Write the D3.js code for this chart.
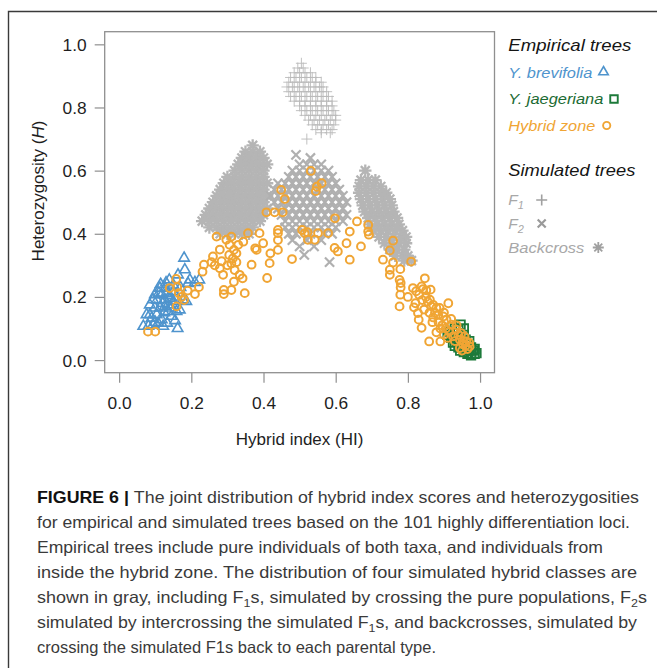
<!DOCTYPE html>
<html>
<head>
<meta charset="utf-8">
<script src="https://cdn.jsdelivr.net/npm/d3@7"></script>
<style>
  html, body { margin: 0; padding: 0; background: #fff; }
  svg { display: block; font-family: "Liberation Sans", Arial, sans-serif; }
</style>
</head>
<body>
<div id="chart"></div>
<script>
// ---- data ----
const xTicks = [0, 0.2, 0.4, 0.6, 0.8, 1.0];
const yTicks = [0, 0.2, 0.4, 0.6, 0.8, 1.0];

// Y. brevifolia (blue triangles)
const brevifolia = [
  [0.18,0.323],[0.182,0.286],[0.163,0.27],[0.139,0.254],[0.196,0.254],[0.21,0.246],[0.222,0.254],
  [0.113,0.228],[0.127,0.228],[0.099,0.207],[0.11,0.212],[0.085,0.175],[0.094,0.191],[0.076,0.144],
  [0.085,0.144],[0.067,0.107],[0.081,0.107],[0.094,0.112],[0.122,0.107],[0.162,0.10],[0.113,0.165],
  [0.127,0.17],[0.136,0.154],[0.104,0.144],[0.118,0.128],[0.145,0.139],[0.159,0.154],[0.127,0.191],
  [0.141,0.196],[0.15,0.186],[0.118,0.207],[0.131,0.212],[0.15,0.217],[0.15,0.238],[0.191,0.243],
  [0.177,0.191],[0.186,0.186],[0.168,0.159],[0.099,0.165],[0.09,0.133],[0.108,0.117],[0.133,0.117],
  [0.12,0.18],[0.135,0.175],[0.145,0.165],[0.125,0.15],[0.14,0.205],[0.16,0.2],[0.105,0.19],
  [0.115,0.24],[0.17,0.23],[0.13,0.245],[0.10,0.12],[0.155,0.125]
];

// Y. jaegeriana (green squares)
const jaegeriana = [
  [0.946,0.112],[0.93,0.10],[0.915,0.09],[0.925,0.085],[0.94,0.095],[0.955,0.10],[0.92,0.07],
  [0.935,0.06],[0.945,0.07],[0.955,0.08],[0.96,0.065],[0.93,0.045],[0.94,0.04],[0.95,0.05],
  [0.965,0.05],[0.97,0.06],[0.975,0.04],[0.945,0.03],[0.955,0.025],[0.965,0.02],[0.975,0.015],
  [0.985,0.02],[0.99,0.022],[0.98,0.03],[0.96,0.035],[0.97,0.03],[0.985,0.035],[0.95,0.04],
  [0.91,0.08],[0.925,0.055]
];

// Hybrid zone (orange circles)
const hybridZone = [
  [0.08,0.09],[0.10,0.09],[0.14,0.228],[0.158,0.257],[0.161,0.231],[0.173,0.20],[0.159,0.17],
  [0.19,0.22],[0.21,0.209],[0.221,0.231],[0.165,0.212],[0.18,0.19],
  [0.231,0.28],[0.235,0.302],[0.256,0.31],[0.26,0.328],[0.27,0.391],[0.279,0.35],[0.284,0.313],
  [0.279,0.291],[0.288,0.27],[0.29,0.222],[0.29,0.209],[0.311,0.222],[0.297,0.381],[0.311,0.391],
  [0.306,0.365],[0.318,0.349],[0.325,0.338],[0.305,0.333],[0.315,0.322],[0.311,0.306],[0.32,0.285],
  [0.334,0.27],[0.342,0.259],[0.318,0.248],[0.348,0.212],[0.344,0.375],[0.357,0.402],[0.33,0.365],
  [0.367,0.302],[0.381,0.349],[0.399,0.37],[0.41,0.26],[0.417,0.307],[0.419,0.338],[0.44,0.349],
  [0.44,0.38],[0.44,0.402],[0.44,0.412],[0.479,0.32],[0.389,0.402],[0.377,0.354],[0.265,0.30],
  [0.30,0.30],[0.325,0.31],
  [0.408,0.468],[0.431,0.468],[0.453,0.468],[0.459,0.51],[0.449,0.539],[0.531,0.599],[0.548,0.549],
  [0.561,0.56],[0.545,0.535],[0.598,0.449],[0.507,0.412],[0.514,0.402],[0.522,0.405],[0.523,0.381],
  [0.542,0.381],[0.551,0.402],[0.579,0.402],[0.597,0.355],[0.606,0.344],[0.63,0.37],[0.639,0.407],
  [0.639,0.318],[0.659,0.439],[0.67,0.36],[0.69,0.428],[0.69,0.407],[0.692,0.397],
  [0.759,0.378],[0.75,0.347],[0.731,0.318],[0.759,0.309],[0.75,0.286],[0.75,0.27],[0.779,0.288],
  [0.777,0.254],[0.78,0.244],[0.78,0.23],[0.779,0.207],[0.777,0.17],[0.80,0.20],[0.814,0.228],
  [0.823,0.218],[0.831,0.207],[0.821,0.18],[0.817,0.167],[0.828,0.149],[0.83,0.128],[0.838,0.102],
  [0.847,0.259],[0.838,0.233],[0.842,0.225],[0.851,0.221],[0.863,0.223],[0.861,0.191],[0.87,0.175],
  [0.879,0.165],[0.884,0.143],[0.898,0.138],[0.907,0.128],[0.888,0.165],[0.912,0.18],[0.859,0.059],
  [0.89,0.059],[0.879,0.088],[0.921,0.112],[0.934,0.096],[0.948,0.085],[0.957,0.075],[0.962,0.059],
  [0.971,0.043],[0.953,0.049],[0.944,0.064],[0.944,0.038],[0.809,0.312],
  [0.85,0.20],[0.855,0.185],[0.865,0.17],[0.875,0.15],[0.87,0.135],[0.885,0.12],[0.895,0.11],
  [0.90,0.15],[0.905,0.10],[0.915,0.09],[0.92,0.13],[0.925,0.075],[0.93,0.06],[0.935,0.11],
  [0.94,0.08],[0.955,0.06],[0.96,0.045],[0.965,0.035],[0.95,0.03],[0.97,0.055],[0.84,0.19],
  [0.845,0.16],[0.86,0.15],[0.868,0.12],[0.89,0.10],[0.90,0.08],[0.91,0.07]
];

// Simulated F1 (+), rows of [H, HI values]
const f1Rows = [
  [0.94,[0.505]],
  [0.925,[0.495,0.51]],
  [0.91,[0.485,0.50,0.515,0.53]],
  [0.895,[0.475,0.49,0.505,0.52,0.535,0.545]],
  [0.88,[0.47,0.485,0.50,0.515,0.53,0.545,0.56]],
  [0.865,[0.465,0.48,0.495,0.51,0.525,0.54,0.555,0.565]],
  [0.85,[0.47,0.485,0.50,0.515,0.53,0.545,0.56,0.575]],
  [0.835,[0.475,0.49,0.505,0.52,0.535,0.55,0.565,0.58]],
  [0.82,[0.485,0.50,0.515,0.53,0.545,0.56,0.575,0.59]],
  [0.805,[0.50,0.515,0.53,0.545,0.56,0.575,0.59]],
  [0.79,[0.505,0.52,0.535,0.55,0.565,0.58,0.595]],
  [0.775,[0.515,0.53,0.545,0.56,0.575,0.59,0.60]],
  [0.76,[0.525,0.54,0.555,0.57,0.585,0.60]],
  [0.745,[0.535,0.55,0.565,0.58,0.595]],
  [0.73,[0.545,0.56,0.575,0.59]],
  [0.72,[0.56,0.585]],
  [0.70,[0.52]]
];

// Simulated F2 (x)
const f2Rows = [
  [0.65,[0.49]],
  [0.64,[0.53]],
  [0.62,[0.50,0.52,0.54,0.56]],
  [0.60,[0.48,0.50,0.52,0.54,0.56,0.58]],
  [0.58,[0.47,0.49,0.51,0.53,0.55,0.57,0.59]],
  [0.56,[0.44,0.46,0.48,0.50,0.52,0.54,0.56,0.58,0.60]],
  [0.54,[0.43,0.45,0.47,0.49,0.51,0.53,0.55,0.57,0.59,0.61]],
  [0.52,[0.42,0.44,0.46,0.48,0.50,0.52,0.54,0.56,0.58,0.60,0.62]],
  [0.50,[0.43,0.45,0.47,0.49,0.51,0.53,0.55,0.57,0.59,0.61,0.63]],
  [0.48,[0.44,0.46,0.48,0.50,0.52,0.54,0.56,0.58,0.60,0.62]],
  [0.46,[0.45,0.47,0.49,0.51,0.53,0.55,0.57,0.59,0.61,0.63]],
  [0.44,[0.46,0.48,0.50,0.52,0.54,0.56,0.58,0.60,0.62]],
  [0.42,[0.46,0.48,0.50,0.52,0.54,0.56,0.58,0.60]],
  [0.40,[0.47,0.49,0.53,0.57,0.59]],
  [0.38,[0.48,0.52,0.56]],
  [0.36,[0.50,0.54]],
  [0.333,[0.513]],
  [0.31,[0.583]]
];

// Simulated backcrosses (asterisks), towards Y. brevifolia
const bcLeftRows = [
  [0.68,[0.37]],
  [0.66,[0.35,0.37,0.39]],
  [0.64,[0.34,0.36,0.38,0.40]],
  [0.62,[0.33,0.35,0.37,0.39,0.41]],
  [0.60,[0.32,0.34,0.36,0.38,0.40]],
  [0.58,[0.30,0.32,0.34,0.36,0.38,0.40]],
  [0.56,[0.29,0.31,0.33,0.35,0.37,0.39,0.41]],
  [0.54,[0.28,0.30,0.32,0.34,0.36,0.38,0.40]],
  [0.52,[0.27,0.29,0.31,0.33,0.35,0.37,0.39,0.41]],
  [0.50,[0.26,0.28,0.30,0.32,0.34,0.36,0.38,0.40]],
  [0.48,[0.25,0.27,0.29,0.31,0.33,0.35,0.37,0.39,0.41]],
  [0.46,[0.24,0.26,0.28,0.30,0.32,0.34,0.36,0.38,0.40]],
  [0.44,[0.23,0.25,0.27,0.29,0.31,0.33,0.35,0.37,0.39]],
  [0.42,[0.25,0.27,0.29,0.31,0.33,0.35,0.37]],
  [0.40,[0.28,0.30,0.32,0.34,0.36]]
];

// Simulated backcrosses, towards Y. jaegeriana
const bcRightRows = [
  [0.60,[0.682]],
  [0.57,[0.67,0.69,0.71]],
  [0.55,[0.665,0.685,0.705,0.725]],
  [0.53,[0.665,0.685,0.705,0.725,0.74]],
  [0.51,[0.67,0.69,0.71,0.73,0.75]],
  [0.49,[0.675,0.695,0.715,0.735,0.755]],
  [0.47,[0.68,0.70,0.72,0.74,0.76]],
  [0.45,[0.69,0.71,0.73,0.75,0.77]],
  [0.43,[0.695,0.715,0.735,0.755,0.775]],
  [0.41,[0.705,0.725,0.745,0.765,0.785]],
  [0.39,[0.72,0.74,0.76,0.78,0.795]],
  [0.37,[0.735,0.755,0.775,0.795]],
  [0.35,[0.75,0.77,0.79]],
  [0.33,[0.765,0.785,0.80]],
  [0.315,[0.79,0.81]]
];

const captionLines = [
  [['FIGURE 6 | ', 'b'], ['The joint distribution of hybrid index scores and heterozygosities']],
  [['for empirical and simulated trees based on the 101 highly differentiation loci.']],
  [['Empirical trees include pure individuals of both taxa, and individuals from']],
  [['inside the hybrid zone. The distribution of four simulated hybrid classes are']],
  [['shown in gray, including F'], ['1', 'sub'], ['s, simulated by crossing the pure populations, F'], ['2', 'sub'], ['s']],
  [['simulated by intercrossing the simulated F'], ['1', 'sub'], ['s, and backcrosses, simulated by']],
  [['crossing the simulated F1s back to each parental type.']]
];
const captionWidths = [602, 593, 566, 600, 610, 600, 399];

// ---- drawing ----
const W = 657, H = 668;
const COL = { blue: '#4f94cd', green: '#1d7a3a', orange: '#f0a534', gray: '#b5b5b5', grayDark: '#b0b0b0' };

const rowsToPoints = rows => rows.flatMap(([h, xs]) => xs.map(v => [v, h]));

const svg = d3.select('#chart').append('svg')
    .attr('width', W)
    .attr('height', H);
svg.append('rect').attr('width', W).attr('height', H).attr('fill', '#fff');

// figure frame (left and top edges visible)
svg.append('path')
    .attr('d', `M8.5,${H + 2}V11.5H${W + 2}`)
    .attr('fill', 'none')
    .attr('stroke', '#3a3a3a')
    .attr('stroke-width', 1.4);

const plot = { left: 104.7, right: 494.5, top: 31.7, bottom: 372.7 };
const x = d3.scaleLinear().domain([-0.04, 1.04]).range([plot.left, plot.right]);
const y = d3.scaleLinear().domain([-0.04, 1.04]).range([plot.bottom, plot.top]);

function stretch(sel, k) {
    sel.each(function() {
        const w = this.getComputedTextLength();
        d3.select(this).attr('textLength', w * k).attr('lengthAdjust', 'spacingAndGlyphs');
    });
}

const mk = {
    tri: s => { const h = s * 0.866; return `M0,${-2 * h / 3}L${s / 2},${h / 3}L${-s / 2},${h / 3}Z`; },
    sq: s => `M${-s / 2},${-s / 2}h${s}v${s}h${-s}Z`,
    plus: r => `M${-r},0H${r}M0,${-r}V${r}`,
    times: r => `M${-r},${-r}L${r},${r}M${-r},${r}L${r},${-r}`,
    star: r => mk.plus(r) + mk.times(r * 0.72)
};

// axes
const gx = svg.append('g')
    .attr('transform', `translate(0,${plot.bottom})`)
    .call(d3.axisBottom(x).tickValues(xTicks).tickFormat(d3.format('.1f')).tickSize(10).tickPadding(15));
const gy = svg.append('g')
    .attr('transform', `translate(${plot.left},0)`)
    .call(d3.axisLeft(y).tickValues(yTicks).tickFormat(d3.format('.1f')).tickSize(10).tickPadding(8));
[gx, gy].forEach(g => {
    g.select('.domain').remove();
    g.attr('font-family', null).attr('font-size', null);
    g.selectAll('line').attr('stroke', '#8f8f8f').attr('stroke-width', 1.2);
    g.selectAll('text').attr('font-size', 16.5).attr('fill', '#1e1e1e');
    stretch(g.selectAll('text'), 1.05);
});
gy.selectAll('text').attr('dy', '0.36em');

// plotting box
svg.append('rect')
    .attr('x', plot.left).attr('y', plot.top)
    .attr('width', plot.right - plot.left).attr('height', plot.bottom - plot.top)
    .attr('fill', 'none').attr('stroke', '#8f8f8f').attr('stroke-width', 1.3);

// axis titles
const xt = svg.append('text')
    .attr('x', x(0.5)).attr('y', 445)
    .attr('text-anchor', 'middle').attr('font-size', 16.5).attr('fill', '#1e1e1e')
    .text('Hybrid index (HI)');
stretch(xt, 1.03);

const yt = svg.append('text')
    .attr('transform', 'translate(44,191) rotate(-90)')
    .attr('text-anchor', 'middle').attr('font-size', 17).attr('fill', '#1e1e1e');
yt.append('tspan').text('Heterozygosity (');
yt.append('tspan').attr('font-style', 'italic').text('H');
yt.append('tspan').text(')');

// points
function drawMarks(data, pathD, color, width) {
    svg.append('g').selectAll('path')
        .data(data)
        .join('path')
        .attr('transform', p => `translate(${x(p[0])},${y(p[1])})`)
        .attr('d', pathD)
        .attr('fill', 'none')
        .attr('stroke', color)
        .attr('stroke-width', width);
}

drawMarks(rowsToPoints(bcLeftRows), mk.star(6.2), COL.gray, 2.3);
drawMarks(rowsToPoints(bcRightRows), mk.star(6.2), COL.gray, 2.3);
drawMarks(rowsToPoints(f2Rows), mk.times(4.6), COL.grayDark, 2.2);
drawMarks(rowsToPoints(f1Rows), mk.plus(5.5), '#bababa', 0.9);
drawMarks(brevifolia, mk.tri(10.5), COL.blue, 1.6);
drawMarks(jaegeriana, mk.sq(8.5), COL.green, 1.8);

svg.append('g').selectAll('circle')
    .data(hybridZone)
    .join('circle')
    .attr('cx', p => x(p[0]))
    .attr('cy', p => y(p[1]))
    .attr('r', 3.9)
    .attr('fill', 'none')
    .attr('stroke', COL.orange)
    .attr('stroke-width', 2);

// legend
const lx = 508.3;
function legendText(label, yb, size, color, width) {
    const t = svg.append('text')
        .attr('x', lx).attr('y', yb)
        .attr('font-size', size).attr('font-style', 'italic').attr('fill', color)
        .text(label);
    if (width) t.attr('textLength', width).attr('lengthAdjust', 'spacingAndGlyphs');
    return t;
}
legendText('Empirical trees', 51, 17, '#151515', 123);
legendText('Y. brevifolia', 77.5, 15.5, COL.blue, 84);
legendText('Y. jaegeriana', 104, 15.5, '#1c6b33', 95);
legendText('Hybrid zone', 130.5, 15.5, COL.orange, 87);
legendText('Simulated trees', 176, 17, '#151515', 127);

const f1t = svg.append('text').attr('x', lx).attr('y', 205).attr('font-size', 15.5)
    .attr('font-style', 'italic').attr('fill', '#a8a8a8');
f1t.append('tspan').text('F');
f1t.append('tspan').attr('font-size', 11).attr('dy', 4).text('1');
const f2t = svg.append('text').attr('x', lx).attr('y', 228.5).attr('font-size', 15.5)
    .attr('font-style', 'italic').attr('fill', '#a8a8a8');
f2t.append('tspan').text('F');
f2t.append('tspan').attr('font-size', 11).attr('dy', 4).text('2');
legendText('Backcross', 252.5, 15.5, '#a8a8a8', 76);

const legendMarks = [
    { cx: 603.5, cy: 72, d: mk.tri(9.5), c: COL.blue, w: 1.6 },
    { cx: 614, cy: 99, d: mk.sq(7.5), c: COL.green, w: 1.9 },
    { cx: 541.7, cy: 200, d: mk.plus(5.5), c: '#a0a0a0', w: 1.6 },
    { cx: 541.7, cy: 223.5, d: mk.times(4), c: '#9a9a9a', w: 2.2 },
    { cx: 598.3, cy: 247.5, d: mk.star(5.5), c: '#a0a0a0', w: 1.8 }
];
svg.append('g').selectAll('path')
    .data(legendMarks)
    .join('path')
    .attr('transform', m => `translate(${m.cx},${m.cy})`)
    .attr('d', m => m.d)
    .attr('fill', 'none')
    .attr('stroke', m => m.c)
    .attr('stroke-width', m => m.w);
svg.append('circle')
    .attr('cx', 606.7).attr('cy', 125.5).attr('r', 3.6)
    .attr('fill', 'none').attr('stroke', COL.orange).attr('stroke-width', 1.9);

// caption
captionLines.forEach((segs, i) => {
    const t = svg.append('text')
        .attr('x', 37).attr('y', 503 + i * 25)
        .attr('font-size', 16.5).attr('fill', '#3a3a3a')
        .attr('textLength', captionWidths[i]).attr('lengthAdjust', 'spacingAndGlyphs');
    let shifted = false;
    segs.forEach(([txt, st]) => {
        const s = t.append('tspan').text(txt);
        if (st === 'b') s.attr('font-weight', 'bold').attr('fill', '#111');
        if (st === 'sub') { s.attr('font-size', 11.5).attr('dy', 4); shifted = true; }
        else if (shifted) { s.attr('dy', -4); shifted = false; }
    });
});
</script>
</body>
</html>
